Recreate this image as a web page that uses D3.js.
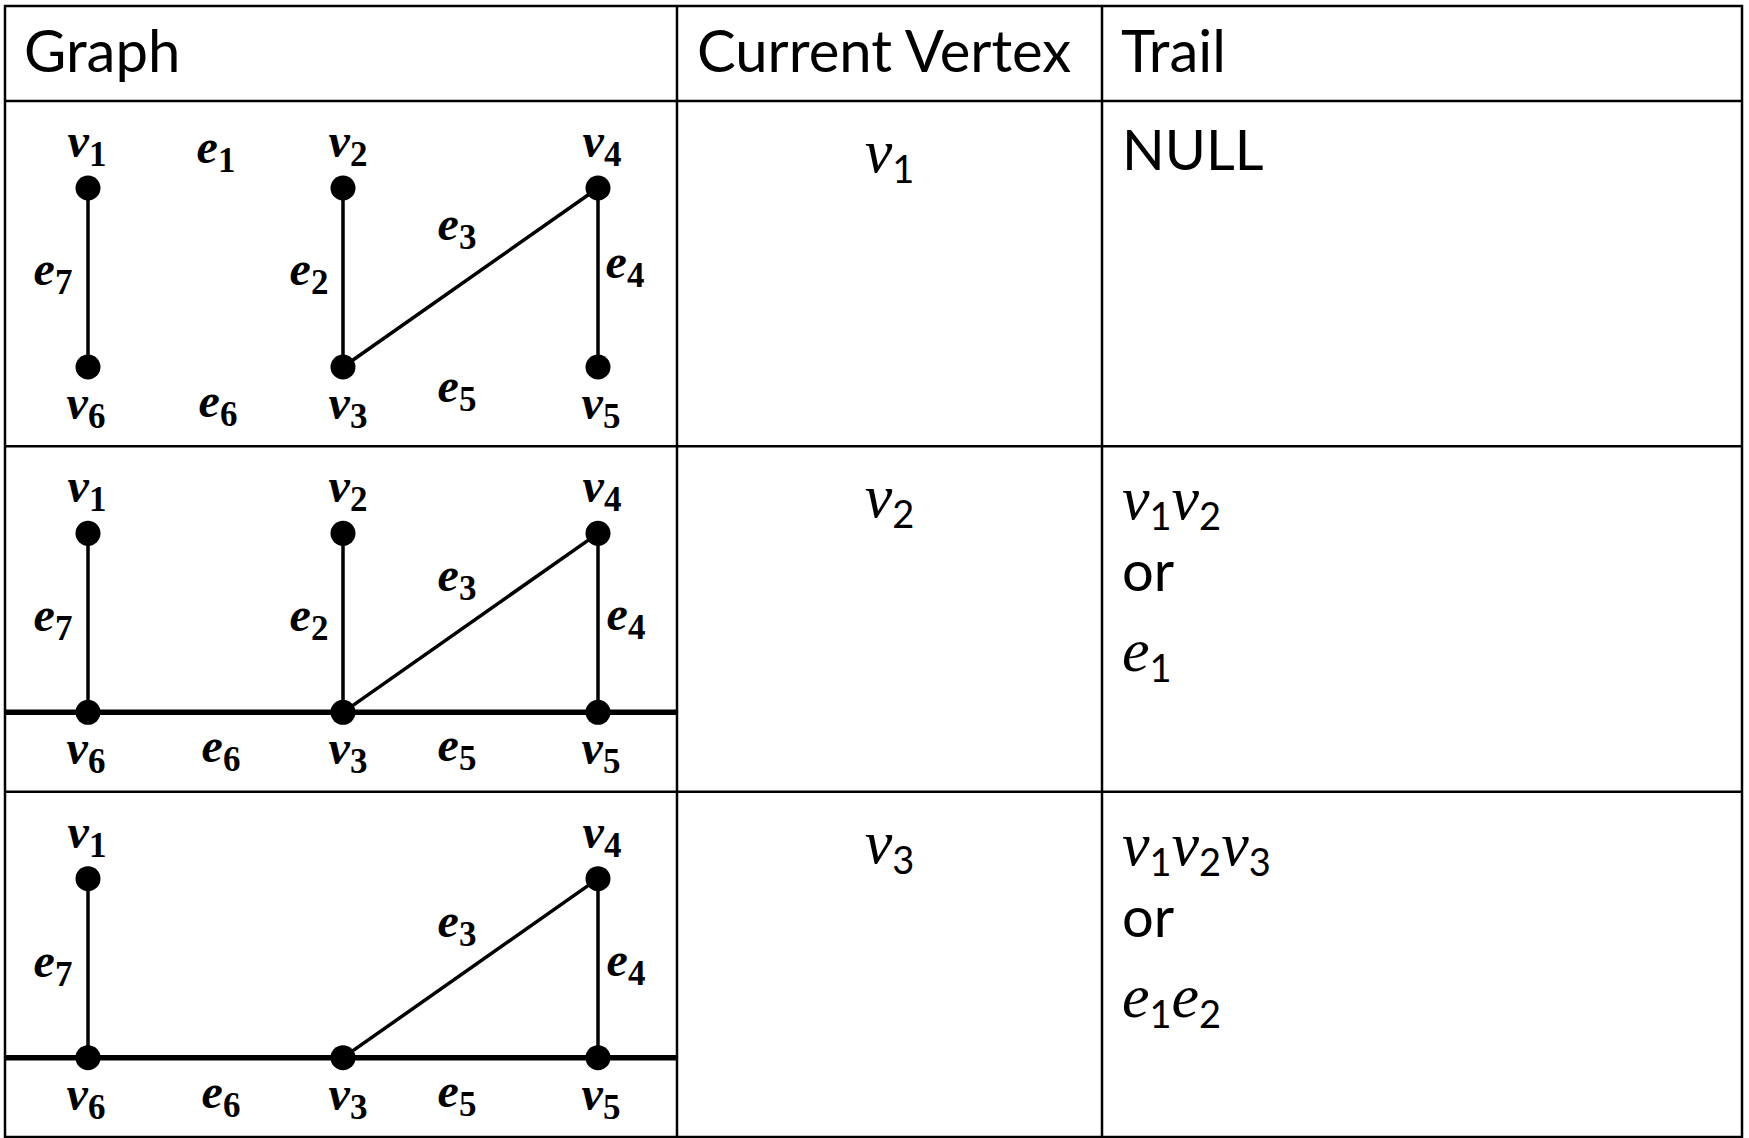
<!DOCTYPE html>
<html>
<head>
<meta charset="utf-8">
<title>Trail table</title>
<style>
  body { margin: 0; background: #fff; }
  .hdr { font-family: Lato, sans-serif; font-size: 58px; fill: #000; }
  .txt { font-family: Lato, sans-serif; font-size: 56px; fill: #000; }
  .glbl { font-family: 'Liberation Serif', 'Times New Roman', serif; font-weight: bold; fill: #000; }
  .math { font-family: 'Liberation Serif', 'Times New Roman', serif; font-style: italic; fill: #000; }
  .sub { font-family: Lato, sans-serif; font-style: normal; }
</style>
</head>
<body>
<div id="chart"></div>
<script src="https://d3js.org/d3.v7.min.js"></script>
<script>
// ---- data ----
const headers = ['Graph', 'Current Vertex', 'Trail'];

// vertex: column in the drawing (0..2) and level (0 = top, 1 = bottom)
const vertexIds = ['v1', 'v2', 'v3', 'v4', 'v5', 'v6'];
const vertexCols = [0, 1, 1, 2, 2, 0];
const vertexLevels = [0, 0, 1, 0, 1, 1];

const edgeIds = ['e1', 'e2', 'e3', 'e4', 'e5', 'e6', 'e7'];
const edgeFrom = ['v1', 'v2', 'v3', 'v4', 'v5', 'v3', 'v6'];
const edgeTo = ['v2', 'v3', 'v4', 'v5', 'v3', 'v6', 'v1'];

// what each row of the table shows
const rowVertices = [
  ['v1', 'v2', 'v3', 'v4', 'v5', 'v6'],
  ['v1', 'v2', 'v3', 'v4', 'v5', 'v6'],
  ['v1', 'v3', 'v4', 'v5', 'v6']
];
const rowEdges = [
  ['e7', 'e2', 'e3', 'e4'],
  ['e7', 'e2', 'e3', 'e4', 'e6', 'e5'],
  ['e7', 'e3', 'e4', 'e6', 'e5']
];
const rowEdgeLabels = [
  ['e1', 'e2', 'e3', 'e4', 'e5', 'e6', 'e7'],
  ['e2', 'e3', 'e4', 'e5', 'e6', 'e7'],
  ['e3', 'e4', 'e5', 'e6', 'e7']
];
const currentVertex = ['v1', 'v2', 'v3'];
const trailVertices = [[], ['v1', 'v2'], ['v1', 'v2', 'v3']];
const trailEdges = [[], ['e1'], ['e1', 'e2']];
const emptyTrail = 'NULL';

// ---- layout ----
const W = 1749, H = 1138;
const colEdges = [5, 677, 1102, 1742];
const tableTop = 6, headerBottom = 101, tableBottom = 1137;

const svg = d3.select('#chart').append('svg')
  .attr('width', W)
  .attr('height', H);

const rowY = d3.scaleLinear().domain([0, 3]).range([headerBottom, tableBottom]);
const gx = d3.scaleLinear().domain([0, 2]).range([88, 598]);
const gy = d3.scaleLinear().domain([0, 1]).range([87, 266]);

// label spots inside a graph cell (centre x, baseline y relative to row top)
const vLabelPos = {
  v1: [87, 56], v2: [348, 56], v4: [602, 56],
  v6: [86, 318], v3: [348, 318], v5: [601, 318]
};
const eLabelPos = [
  { e1: [216, 62], e2: [309, 184], e3: [457, 139], e4: [625, 177], e5: [457, 301], e6: [218, 316], e7: [53, 184] },
  { e1: [216, 62], e2: [309, 185], e3: [457, 145], e4: [626, 184], e5: [457, 315], e6: [221, 316], e7: [53, 185] },
  { e1: [216, 62], e2: [309, 185], e3: [457, 145], e4: [626, 184], e5: [457, 315], e6: [221, 316], e7: [53, 185] }
];

const vertexById = {};
vertexIds.forEach((id, i) => vertexById[id] = { col: vertexCols[i], level: vertexLevels[i] });
const edgeById = {};
edgeIds.forEach((id, i) => edgeById[id] = { from: edgeFrom[i], to: edgeTo[i] });

// ---- table grid ----
const grid = svg.append('g')
  .attr('stroke', '#000')
  .attr('stroke-width', 2.5);

grid.append('rect')
  .attr('x', colEdges[0])
  .attr('y', tableTop)
  .attr('width', colEdges[3] - colEdges[0])
  .attr('height', tableBottom - tableTop)
  .attr('fill', 'none');

grid.selectAll('line.col')
  .data(colEdges.slice(1, 3))
  .enter()
  .append('line')
  .attr('class', 'col')
  .attr('x1', d => d).attr('x2', d => d)
  .attr('y1', tableTop).attr('y2', tableBottom);

grid.selectAll('line.row')
  .data([0, 1, 2])
  .enter()
  .append('line')
  .attr('class', 'row')
  .attr('x1', colEdges[0]).attr('x2', colEdges[3])
  .attr('y1', d => rowY(d)).attr('y2', d => rowY(d));

// header texts
const headerX = [24, 697, 1121];
svg.selectAll('text.hdr')
  .data(headers)
  .enter()
  .append('text')
  .attr('class', 'hdr')
  .attr('x', (d, i) => headerX[i])
  .attr('y', 72)
  .text(d => d);

// graph label: bold italic letter with upright bold subscript
function graphLabel(g, id, p) {
  const t = g.append('text')
    .attr('class', 'glbl')
    .attr('x', p[0])
    .attr('y', p[1])
    .attr('text-anchor', 'middle');
  t.append('tspan').attr('font-size', 48).attr('font-style', 'italic').text(id[0]);
  t.append('tspan').attr('font-size', 35).attr('dy', 9).text(id.slice(1));
}

// ---- rows ----
for (let r = 0; r < 3; r++) {
  const top = rowY(r);
  const cell = svg.append('g').attr('transform', `translate(0, ${top})`);

  const pos = id => {
    const v = vertexById[id];
    return [gx(v.col), gy(v.level)];
  };

  // edges
  const thin = rowEdges[r].filter(e => e !== 'e5' && e !== 'e6');
  cell.selectAll('line.edge')
    .data(thin)
    .enter()
    .append('line')
    .attr('class', 'edge')
    .attr('x1', d => pos(edgeById[d].from)[0])
    .attr('y1', d => pos(edgeById[d].from)[1])
    .attr('x2', d => pos(edgeById[d].to)[0])
    .attr('y2', d => pos(edgeById[d].to)[1])
    .attr('stroke', '#000')
    .attr('stroke-width', 3.5);

  // bottom rail (e6, e5) drawn heavy across the cell
  const rail = [];
  if (rowEdges[r].includes('e6')) rail.push([colEdges[0], gx(1)]);
  if (rowEdges[r].includes('e5')) rail.push([gx(1), colEdges[1]]);
  cell.selectAll('line.rail')
    .data(rail)
    .enter()
    .append('line')
    .attr('class', 'rail')
    .attr('x1', d => d[0]).attr('x2', d => d[1])
    .attr('y1', gy(1)).attr('y2', gy(1))
    .attr('stroke', '#000')
    .attr('stroke-width', 5.5);

  // nodes
  cell.selectAll('circle')
    .data(rowVertices[r])
    .enter()
    .append('circle')
    .attr('cx', d => pos(d)[0])
    .attr('cy', d => pos(d)[1])
    .attr('r', 12.5)
    .attr('fill', '#000');

  rowVertices[r].forEach(id => graphLabel(cell, id, vLabelPos[id]));
  rowEdgeLabels[r].forEach(id => graphLabel(cell, id, eLabelPos[r][id]));

  // current vertex
  const cv = cell.append('text')
    .attr('class', 'math')
    .attr('x', (colEdges[1] + colEdges[2]) / 2)
    .attr('y', 71)
    .attr('text-anchor', 'middle');
  cv.append('tspan').attr('font-size', 62).text(currentVertex[r][0]);
  cv.append('tspan').attr('class', 'sub').attr('font-size', 38).attr('dy', 11).text(currentVertex[r].slice(1));

  // trail
  const tx = 1122;
  if (trailVertices[r].length === 0) {
    cell.append('text')
      .attr('class', 'txt')
      .attr('x', tx)
      .attr('y', 69)
      .text(emptyTrail);
  } else {
    const lines = [
      { ids: trailVertices[r], y: 73 },
      { ids: trailEdges[r], y: 225 }
    ];
    lines.forEach(line => {
      const t = cell.append('text')
        .attr('class', 'math')
        .attr('x', tx)
        .attr('y', line.y);
      line.ids.forEach((id, k) => {
        t.append('tspan').attr('font-size', 62).attr('dy', k === 0 ? 0 : -11).text(id[0]);
        t.append('tspan').attr('class', 'sub').attr('font-size', 38).attr('dy', 11).text(id.slice(1));
      });
    });
    cell.append('text')
      .attr('class', 'txt')
      .attr('x', tx)
      .attr('y', 145)
      .text('or');
  }
}
</script>
</body>
</html>
